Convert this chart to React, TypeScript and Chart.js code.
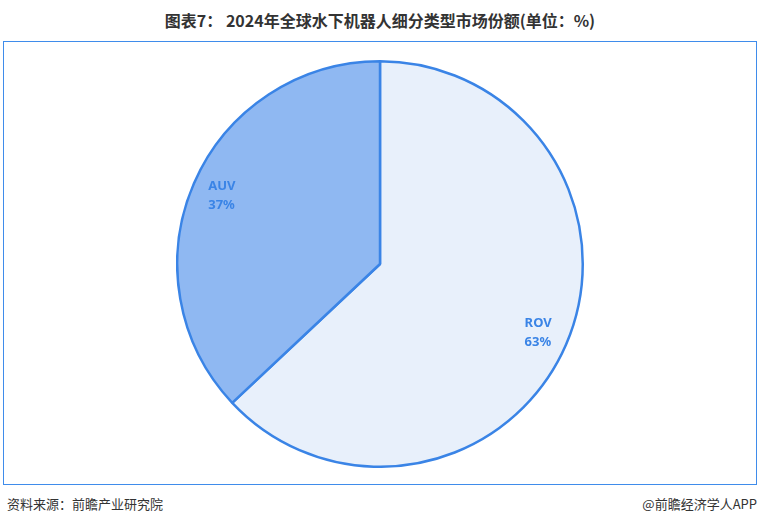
import React, { useEffect, useRef } from "react";
import { Chart, registerables } from "chart.js";

Chart.register(...registerables);

const categories = ["ROV", "AUV"];
const shares = [63, 37];
const fillColors = ["#E8F0FB", "#8FB8F2"];
const titleText = "图表7： 2024年全球水下机器人细分类型市场份额(单位：%)";
const sourceText = "资料来源：前瞻产业研究院";
const creditText = "@前瞻经济学人APP";

const labelPlugin = {
  id: "sliceLabels",
  afterDatasetsDraw(chart: any) {
    const ctx = chart.ctx;
    const meta = chart.getDatasetMeta(0);
    ctx.save();
    ctx.font = "bold 13px 'Noto Sans', 'DejaVu Sans', sans-serif";
    ctx.fillStyle = "#3A84E6";
    ctx.textAlign = "left";
    ctx.textBaseline = "middle";
    meta.data.forEach((arc: any, i: number) => {
      const { x, y, startAngle, endAngle, outerRadius } = arc.getProps(
        ["x", "y", "startAngle", "endAngle", "outerRadius"],
        true
      );
      const mid = (startAngle + endAngle) / 2;
      const r = outerRadius * 0.85;
      const cx = x + Math.cos(mid) * r;
      const cy = y + Math.sin(mid) * r;
      const l1 = categories[i];
      const l2 = shares[i] + "%";
      const w = Math.max(ctx.measureText(l1).width, ctx.measureText(l2).width);
      ctx.fillText(l1, cx - w / 2, cy - 9.5);
      ctx.fillText(l2, cx - w / 2, cy + 9.5);
    });
    ctx.restore();
  },
};

export default function App() {
  const ref = useRef<HTMLCanvasElement>(null);
  useEffect(() => {
    const chart = new Chart(ref.current as HTMLCanvasElement, {
      type: "pie",
      data: {
        labels: categories,
        datasets: [
          {
            data: shares,
            backgroundColor: fillColors,
            borderColor: "#3A84E6",
            borderWidth: 2.5,
          },
        ],
      },
      options: {
        animation: false,
        responsive: false,
        events: [],
        layout: { padding: 0 },
        plugins: { legend: { display: false }, tooltip: { enabled: false } },
      },
      plugins: [labelPlugin],
    });
    return () => chart.destroy();
  }, []);

  return (
    <div
      style={{
        position: "fixed",
        left: 0,
        top: 0,
        width: 760,
        height: 524,
        background: "#fff",
        fontFamily: "'Noto Sans CJK SC', sans-serif",
      }}
    >
      <div
        style={{
          position: "absolute",
          left: 0,
          top: 8,
          width: 760,
          textAlign: "center",
          fontSize: 16,
          fontWeight: "bold",
          color: "#333",
          lineHeight: "24px",
        }}
      >
        {titleText}
      </div>
      <div
        style={{
          position: "absolute",
          left: 3,
          top: 41,
          width: 754,
          height: 444,
          border: "1px solid #3F8CEB",
          boxSizing: "border-box",
        }}
      />
      <canvas
        ref={ref}
        width={408}
        height={408}
        style={{ position: "absolute", left: 176, top: 60, width: 408, height: 408 }}
      />
      <div
        style={{
          position: "absolute",
          left: 7,
          top: 494,
          fontSize: 13,
          color: "#333",
          lineHeight: "20px",
        }}
      >
        {sourceText}
      </div>
      <div
        style={{
          position: "absolute",
          right: 3,
          top: 494,
          fontSize: 13,
          color: "#333",
          lineHeight: "20px",
        }}
      >
        {creditText}
      </div>
    </div>
  );
}
